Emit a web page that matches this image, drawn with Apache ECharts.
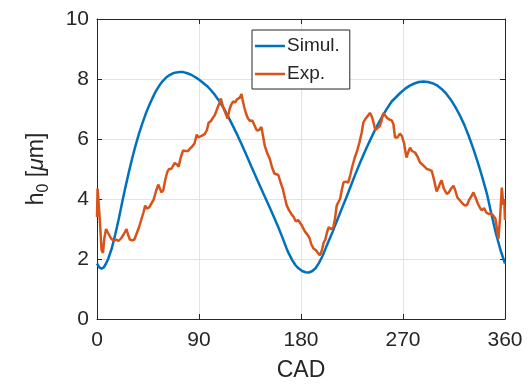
<!DOCTYPE html>
<html>
<head>
<meta charset="utf-8">
<script src="https://cdn.jsdelivr.net/npm/echarts@6/dist/echarts.min.js"></script>
<style>html,body{margin:0;padding:0;background:#fff}#c{width:528px;height:387px}</style>
</head>
<body>
<div id="c"></div>
<script>
// Simulated curve (CAD degrees, h0 in micrometres)
const simX = [0,2,4,6,8,10,13,16,19,22,25,28,31,34,37,40,43,46,49,52,55,58,61,64,67,70,73,76,79,82,85,88,91,94,97,100,104,108,112,116,120,124,128,132,136,140,144,148,152,156,160,164,168,172,175,178,181,184,187,190,193,196,199,202,205,208,212,216,220,224,228,232,236,240,244,248,252,256,260,264,268,272,276,280,284,288,292,296,300,304,308,312,316,320,324,328,332,336,340,344,348,352,356,360];
const simY = [1.85,1.72,1.68,1.72,1.85,2.02,2.35,2.8,3.3,3.85,4.38,4.88,5.35,5.78,6.17,6.52,6.84,7.12,7.37,7.6,7.78,7.93,8.05,8.13,8.19,8.22,8.23,8.23,8.2,8.16,8.1,8.03,7.95,7.86,7.77,7.65,7.47,7.26,7.01,6.73,6.43,6.12,5.79,5.45,5.1,4.76,4.42,4.08,3.75,3.41,3.06,2.68,2.28,1.98,1.8,1.68,1.6,1.56,1.55,1.6,1.7,1.88,2.1,2.38,2.65,2.92,3.3,3.68,4.05,4.44,4.83,5.2,5.55,5.88,6.2,6.5,6.77,7.02,7.25,7.4,7.55,7.68,7.78,7.85,7.9,7.92,7.9,7.86,7.79,7.67,7.52,7.32,7.08,6.8,6.48,6.1,5.68,5.22,4.72,4.18,3.5,2.85,2.3,1.85];
// Experimental curve
const expX = [0,0.5,1.5,2.5,4,5.3,6.5,8,10,12.5,15,17,19,21.5,24,26,27.5,29,31,33,35,37,39,41,42.5,44,46,48,50,52,54,55.5,57,58.5,60,62,63.5,65.5,67,68.6,70.5,72,74,76,78,80.4,82,84,86,88,89.5,91,93,95,97,98.5,100.5,102.5,104,106,108,109.3,111,113,115.2,117,118.5,120,122,123.5,125,126,127.5,128.5,130,131.5,133,135,137,139,141,143,145,146.5,148,150,152.5,154.5,156.5,158,160,162,164,166,167.5,169.5,171.5,173.5,175.5,177.5,179,181,183.4,185.5,187.5,189,191,193,195,196.7,198.5,200,201.5,203,204.5,206.5,208.5,210,211.5,213,214.5,216,217.5,219.5,221.7,223.5,225,227.6,229.5,231.5,233.5,235,236.5,238,240.8,242.5,244,245.5,247,249.5,251,252.6,254,256,258,260,261.5,263,265,267.3,269,271,273,274.5,276.2,278,280.6,283,285,287,289,291,293,295.3,297,299.7,301.5,303,304.1,306,308.6,310.5,312.5,314.5,316,318,320.3,322.5,324.7,326.5,328.5,330.5,332.1,334,336,338,339.5,341.5,343.5,345.5,347.5,349.5,351.5,353,354.2,355.5,357.2,358.5,359.3,360];
const expY = [3.4,4.35,4.3,3.3,2.3,2.2,2.7,3.0,2.85,2.68,2.6,2.65,2.6,2.7,2.85,3.0,2.8,2.65,2.62,2.65,2.85,3.05,3.3,3.55,3.78,3.68,3.72,3.85,3.98,4.25,4.48,4.45,4.22,4.3,4.6,4.9,5.0,5.0,5.1,5.2,5.15,5.08,5.4,5.62,5.6,5.6,5.68,5.75,5.85,6.15,6.05,6.1,6.12,6.16,6.3,6.54,6.6,6.72,6.8,7.0,7.2,7.35,7.1,6.9,6.68,7.0,7.15,7.25,7.22,7.32,7.3,7.38,7.5,7.3,7.05,6.85,6.7,6.6,6.62,6.45,6.28,6.3,6.4,6.1,5.78,5.55,5.33,5.05,4.85,4.9,4.8,4.55,4.33,4.0,3.78,3.62,3.5,3.4,3.25,3.3,3.3,3.1,2.92,2.82,2.7,2.5,2.35,2.3,2.2,2.12,2.3,2.55,2.65,2.9,3.06,3.0,3.05,3.35,3.78,3.9,4.0,4.3,4.55,4.58,4.55,4.8,5.05,5.4,5.6,5.88,6.2,6.55,6.65,6.65,6.87,6.75,6.55,6.3,6.3,6.43,6.6,6.87,6.85,6.7,6.65,6.62,6.5,6.05,6.05,6.18,6.1,5.85,5.38,5.55,5.71,5.6,5.55,5.4,5.22,5.15,5.08,5.0,4.98,4.94,4.7,4.25,4.4,4.55,4.62,4.35,4.17,4.22,4.35,4.44,4.3,4.05,3.95,3.85,3.78,3.8,3.98,4.1,4.22,4.05,3.85,3.7,3.62,3.7,3.55,3.5,3.52,3.45,3.35,3.0,2.67,3.3,4.38,3.8,4.0,3.3];
const xTicks = [0,90,180,270,360];
const yTicks = [0,2,4,6,8,10];
const seriesNames = ['Simul.','Exp.'];

const zip = (xs, ys) => xs.map((x, i) => [x, ys[i]]);
const FONT = 'Liberation Sans, Arial, Helvetica, sans-serif';
const AX = '#262626';
const GRID = '#e3e3e3';

const chart = echarts.init(document.getElementById('c'), null, {renderer: 'canvas'});
const baseX = {
  type: 'value', min: xTicks[0], max: xTicks[xTicks.length-1], interval: 90,
  axisLine: {show: true, onZero: false, lineStyle: {color: AX, width: 1}},
  axisTick: {show: true, inside: true, length: 5, lineStyle: {color: AX}},
  splitLine: {show: false}
};
const baseY = {
  type: 'value', min: yTicks[0], max: yTicks[yTicks.length-1], interval: 2,
  axisLine: {show: true, onZero: false, lineStyle: {color: AX, width: 1}},
  axisTick: {show: true, inside: true, length: 5, lineStyle: {color: AX}},
  splitLine: {show: false}
};
chart.setOption({
  animation: false,
  backgroundColor: '#fff',
  grid: {left: 97, right: 23, top: 19, bottom: 66, containLabel: false},
  legend: {
    data: seriesNames.map(n => ({name: n, icon: 'rect'})),
    orient: 'vertical',
    left: 252, top: 30,
    backgroundColor: '#fff',
    borderColor: AX, borderWidth: 1,
    padding: [6, 10, 5, 3],
    itemWidth: 30, itemHeight: 2.5, itemGap: 8,
    textStyle: {fontFamily: FONT, fontSize: 19, lineHeight: 20, color: AX, padding: [0,0,0,-3]}
  },
  xAxis: [
    Object.assign({}, baseX, {
      position: 'bottom',
      splitLine: {show: true, lineStyle: {color: GRID, width: 1}},
      axisLabel: {show: true, fontFamily: FONT, fontSize: 21, color: AX, margin: 11},
      name: 'CAD', nameLocation: 'middle', nameGap: 40,
      nameTextStyle: {fontFamily: FONT, fontSize: 23, color: AX}
    }),
    Object.assign({}, baseX, {position: 'top', axisLabel: {show: false}})
  ],
  yAxis: [
    Object.assign({}, baseY, {
      position: 'left',
      splitLine: {show: true, lineStyle: {color: GRID, width: 1}},
      axisLabel: {show: true, fontFamily: FONT, fontSize: 21, color: AX, margin: 8},
      name: '{a|h}{s|0}{a| [}{i|μ}{a|m]}',
      nameLocation: 'middle', nameGap: 45, nameRotate: 90,
      nameTextStyle: {
        fontFamily: FONT, fontSize: 23, color: AX,
        rich: {
          a: {fontFamily: FONT, fontSize: 23, color: AX, lineHeight: 30},
          i: {fontFamily: FONT, fontSize: 23, color: AX, fontStyle: 'italic', lineHeight: 30},
          s: {fontFamily: FONT, fontSize: 16, color: AX, lineHeight: 30, verticalAlign: 'bottom'}
        }
      }
    }),
    Object.assign({}, baseY, {position: 'right', axisLabel: {show: false}})
  ],
  series: [
    {name: seriesNames[0], type: 'line', data: zip(simX, simY), symbol: 'none', smooth: false,
     lineStyle: {color: '#0072BD', width: 2.5}, itemStyle: {color: '#0072BD'}, z: 2},
    {name: seriesNames[1], type: 'line', data: zip(expX, expY), symbol: 'none', smooth: false,
     lineStyle: {color: '#D95319', width: 2.5}, itemStyle: {color: '#D95319'}, z: 3}
  ]
});
</script>
</body>
</html>
